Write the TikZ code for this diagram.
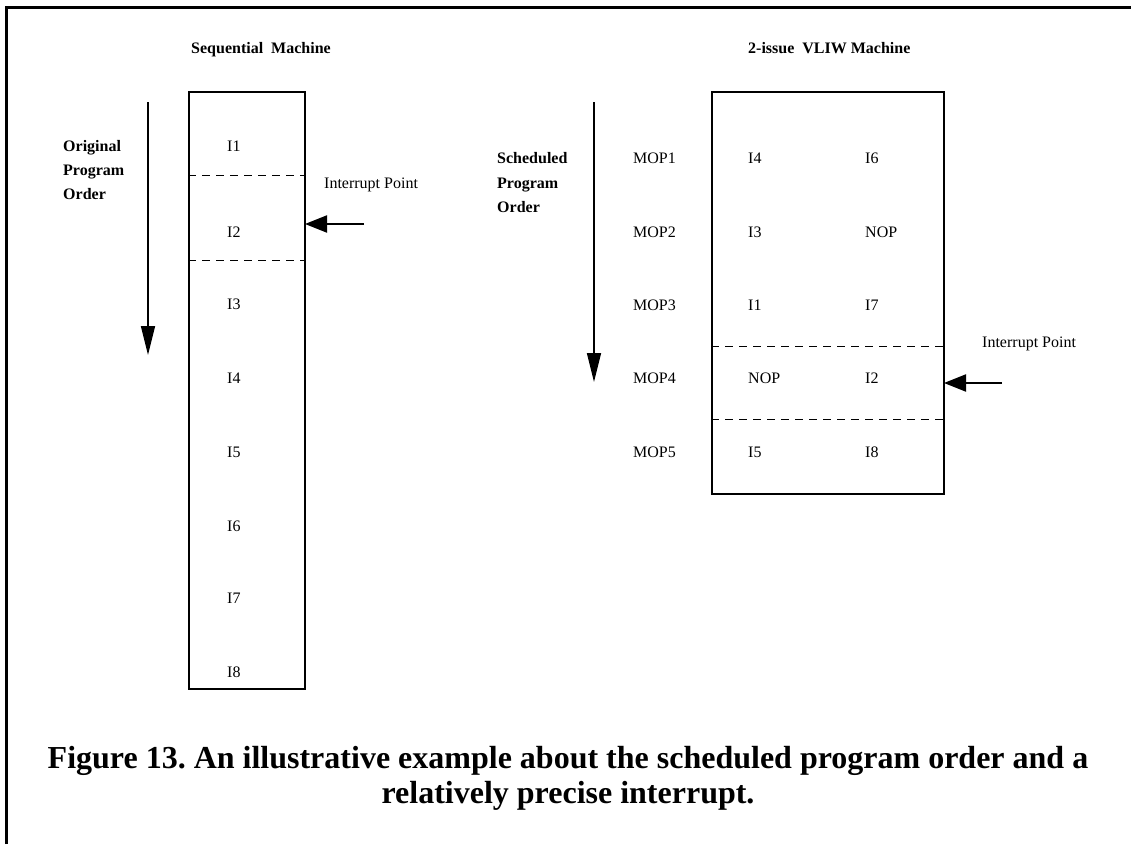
\documentclass[tikz,border=0pt]{standalone}
\usepackage{fontspec}
\setmainfont{Liberation Serif}
\usetikzlibrary{arrows.meta}
\frenchspacing
\begin{document}
\begin{tikzpicture}[x=1pt,y=-1pt,
  txt/.style={inner sep=0pt,anchor=base west,font=\fontsize{16}{19}\selectfont},
  btxt/.style={inner sep=0pt,anchor=base west,font=\fontsize{16}{19}\selectfont\bfseries},
  captxt/.style={inner sep=0pt,anchor=base,font=\fontsize{32}{35}\selectfont\bfseries},
  box/.style={draw,line width=2pt},
  sep/.style={line width=1pt,dash pattern=on 8pt off 6pt},
  vorder/.style={line width=1.6pt,-{Triangle[length=29pt,width=14pt]}},
  intarrow/.style={line width=2pt,-{Triangle[length=22pt,width=17pt]}}]
\useasboundingbox (0,0) rectangle (1131,844);
% frame
\draw[line width=3pt] (6,844) -- (6,7) -- (1131,7);

% ---------- Sequential machine ----------
\node[btxt,anchor=base] (seqt) at (261,53) {Sequential\ \ Machine};
\node[box,minimum width=116pt,minimum height=597pt,inner sep=0pt,anchor=north west] (seqbox) at (188,91) {};
\coordinate (d1l) at (188,175); \coordinate (d1r) at (304,175);
\coordinate (d2l) at (188,260); \coordinate (d2r) at (304,260);
\draw[sep] (d1l) -- (d1r);
\draw[sep] (d2l) -- (d2r);
\node[txt] (s1) at (227,151) {I1};
\node[txt] (s2) at (227,237) {I2};
\node[txt] (s3) at (227,309) {I3};
\node[txt] (s4) at (227,383) {I4};
\node[txt] (s5) at (227,457) {I5};
\node[txt] (s6) at (227,531) {I6};
\node[txt] (s7) at (227,603) {I7};
\node[txt] (s8) at (227,677) {I8};

\node[btxt] (oo1) at (63,151) {Original};
\node[btxt] (oo2) at (63,175) {Program};
\node[btxt] (oo3) at (63,199) {Order};
\coordinate (lvt) at (148,102); \coordinate (lvb) at (148,355);
\draw[vorder] (lvt) -- (lvb);

\node[txt] (ip1) at (324,188) {Interrupt Point};
\coordinate (ia1) at (364,224); \coordinate (ib1) at (305,224);
\draw[intarrow] (ia1) -- (ib1);

% ---------- VLIW machine ----------
\node[btxt] (vliwt) at (748,53) {2-issue\ \ VLIW Machine};
\node[box,minimum width=232pt,minimum height=402pt,inner sep=0pt,anchor=north west] (vbox) at (711,91) {};
\coordinate (e1l) at (711,346); \coordinate (e1r) at (943,346);
\coordinate (e2l) at (711,419); \coordinate (e2r) at (943,419);
\draw[sep] (e1l) -- (e1r);
\draw[sep] (e2l) -- (e2r);

\node[txt] (m1) at (633,163) {MOP1};
\node[txt] (m2) at (633,237) {MOP2};
\node[txt] (m3) at (633,310) {MOP3};
\node[txt] (m4) at (633,383) {MOP4};
\node[txt] (m5) at (633,457) {MOP5};

\node[txt] (a1) at (748,163) {I4};
\node[txt] (a2) at (748,237) {I3};
\node[txt] (a3) at (748,310) {I1};
\node[txt] (a4) at (748,383) {NOP};
\node[txt] (a5) at (748,457) {I5};

\node[txt] (b1) at (865,163) {I6};
\node[txt] (b2) at (865,237) {NOP};
\node[txt] (b3) at (865,310) {I7};
\node[txt] (b4) at (865,383) {I2};
\node[txt] (b5) at (865,457) {I8};

\node[btxt] (so1) at (497,163) {Scheduled};
\node[btxt] (so2) at (497,188) {Program};
\node[btxt] (so3) at (497,212) {Order};
\coordinate (rvt) at (594,102); \coordinate (rvb) at (594,382);
\draw[vorder] (rvt) -- (rvb);

\node[txt] (ip2) at (982,347) {Interrupt Point};
\coordinate (ia2) at (1002,383); \coordinate (ib2) at (944,383);
\draw[intarrow] (ia2) -- (ib2);

% ---------- caption ----------
\node[captxt] (cap1) at (568,768) {Figure 13. An illustrative example about the scheduled program order and a};
\node[captxt] (cap2) at (568,803) {relatively precise interrupt.};
\end{tikzpicture}
\end{document}
